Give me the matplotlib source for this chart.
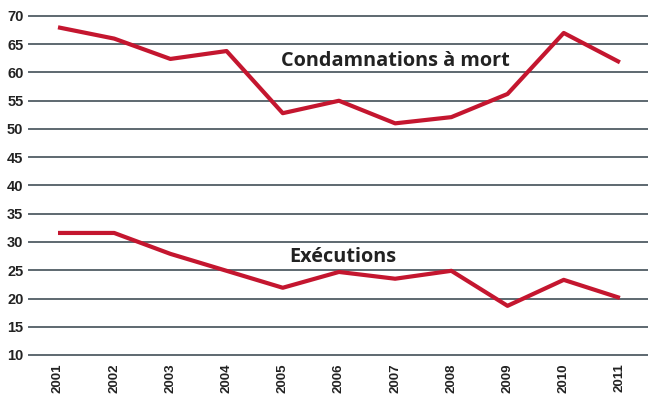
import matplotlib
matplotlib.use("Agg")
import matplotlib.pyplot as plt

years = list(range(2001, 2012))
condamnations = [68, 66, 62.4, 63.8, 52.8, 55, 51, 52.1, 56.2, 67, 61.8]
executions = [31.6, 31.6, 27.9, 24.9, 21.9, 24.7, 23.5, 24.9, 18.7, 23.3, 20.1]
yticks = list(range(10, 75, 5))

tick_font = "Liberation Sans"
red = "#c4162f"
grid = "#5d6870"

fig = plt.figure(figsize=(6.48, 4.0), dpi=100)
ax = fig.add_axes([29 / 648, 1 - 355 / 400, 1 - 29 / 648, (355 - 16) / 400])

for y in yticks:
    ax.axhline(y, color=grid, lw=1.4, zorder=1, clip_on=False)

ax.plot(years, condamnations, color=red, lw=3.0, zorder=3, solid_capstyle="butt")
ax.plot(years, executions, color=red, lw=3.0, zorder=3, solid_capstyle="butt")

ax.set_xlim(2000.484, 2011.5)
ax.set_ylim(10, 70)
ax.set_yticks(yticks)
ax.set_xticks(years)
ax.set_yticklabels([str(v) for v in yticks], fontsize=10.5, fontweight="bold",
                   family=tick_font, color="#222222")
ax.set_xticklabels([str(v) for v in years], fontsize=9.5, fontweight="bold",
                   family=tick_font, rotation=90, color="#222222")
ax.tick_params(length=0, axis="y", pad=4)
ax.tick_params(length=0, axis="x", pad=6)
for s in ax.spines.values():
    s.set_visible(False)

ax.text(2007.01, 62.1, "Condamnations à mort", ha="center", va="center",
        fontsize=14.3, fontweight="bold", family="Open Sans", color="#222222", zorder=4)
ax.text(2006.07, 27.4, "Exécutions", ha="center", va="center",
        fontsize=14.3, fontweight="bold", family="Open Sans", color="#222222", zorder=4)

fig.savefig("out.png", dpi=100)
